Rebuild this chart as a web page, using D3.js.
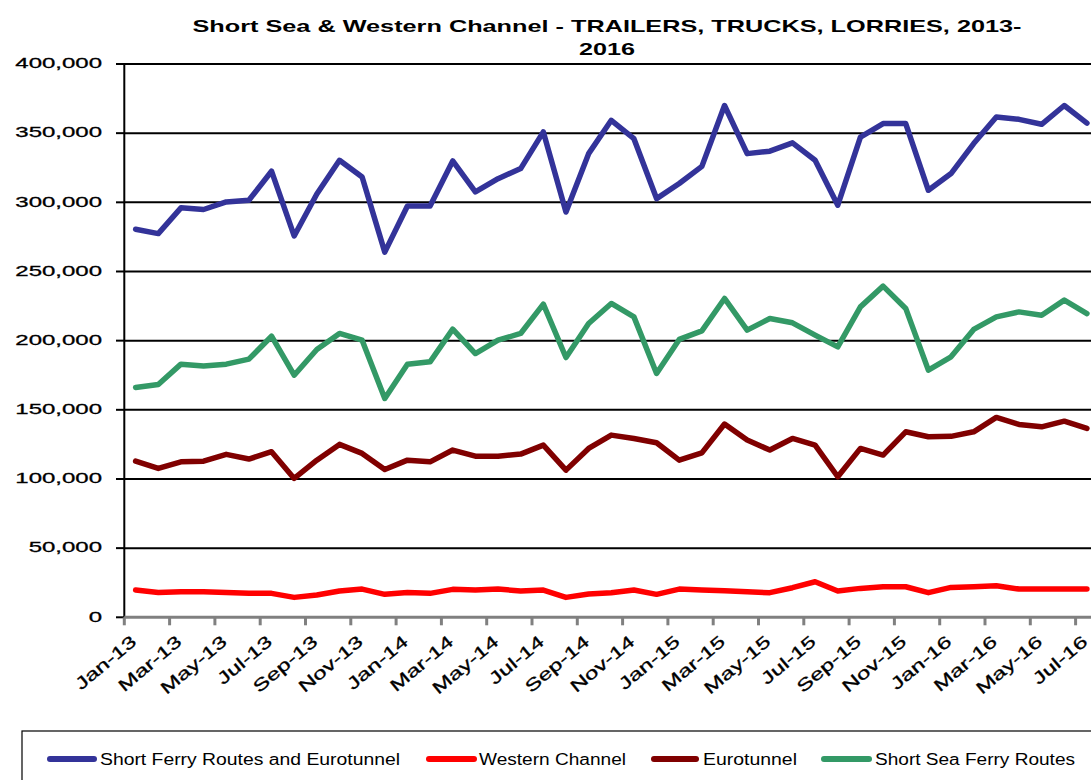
<!DOCTYPE html>
<html><head><meta charset="utf-8">
<script src="https://cdn.jsdelivr.net/npm/d3@7"></script>
<style>html,body{margin:0;padding:0;background:#fff;overflow:hidden}svg{display:block}text{font-family:"Liberation Sans",Arial,sans-serif}</style>
</head><body><svg id="c" width="1091" height="780"></svg>
<script>
const months=["Jan-13","Feb-13","Mar-13","Apr-13","May-13","Jun-13","Jul-13","Aug-13","Sep-13","Oct-13","Nov-13","Dec-13",
"Jan-14","Feb-14","Mar-14","Apr-14","May-14","Jun-14","Jul-14","Aug-14","Sep-14","Oct-14","Nov-14","Dec-14",
"Jan-15","Feb-15","Mar-15","Apr-15","May-15","Jun-15","Jul-15","Aug-15","Sep-15","Oct-15","Nov-15","Dec-15",
"Jan-16","Feb-16","Mar-16","Apr-16","May-16","Jun-16","Jul-16"];
const shortFerryAndEurotunnel=[280500,277400,296000,294800,300300,301500,322500,275700,306000,330400,318300,264000,297400,297400,329900,307500,317100,324400,350900,293000,335200,359300,346000,302700,313600,326000,370000,335200,337000,343000,330400,297900,347200,356900,356900,308700,320800,342500,361700,360000,356400,370000,357300];
const westernChannel=[19700,18000,18400,18400,18000,17300,17300,14400,16100,19000,20400,16600,18000,17300,20200,19700,20400,19000,19700,14400,16800,17800,19700,16600,20400,19700,19200,18400,17800,21400,25700,19000,20900,22100,22100,17800,21600,22100,22800,20400,20400,20400,20400];
const eurotunnel=[112900,107600,112400,112900,117800,114400,119700,100400,113600,125000,118500,106900,113600,112400,120900,116500,116500,118000,124500,106400,122100,131700,129300,126200,113600,118900,139700,128100,120900,129300,124500,101600,122100,117300,134100,130500,130800,134100,144500,139400,137700,141800,136500];
const shortSeaFerry=[166200,168300,183000,181600,183000,186600,203200,175000,193600,205200,200300,158200,183000,184700,208300,190700,200300,205200,226400,187800,212400,226900,217200,176300,200900,207100,230500,207600,216000,212900,204000,195500,224400,239400,223300,178700,188300,208100,217200,220800,218400,229300,219600];
const seriesNames=["Short Ferry Routes and  Eurotunnel","Western Channel","Eurotunnel","Short Sea Ferry Routes"];
const seriesColors=["#333399","#FF0000","#800000","#339966"];
const yTicks=[0,50000,100000,150000,200000,250000,300000,350000,400000];
const titleLines=["Short Sea & Western Channel -  TRAILERS, TRUCKS, LORRIES, 2013-","2016"];

const svg=d3.select("#c");
const x=d3.scaleBand().domain(months).range([124.3,124.3+43*22.65]).padding(0);
const y=d3.scaleLinear().domain([0,400000]).range([617.3,64]);
const fmt=d3.format(",");

// gridlines
svg.append("g").selectAll("line").data(yTicks.filter(d=>d>0)).join("line")
 .attr("x1",x.range()[0]).attr("x2",1100).attr("y1",d=>y(d)).attr("y2",d=>y(d))
 .attr("stroke","#000").attr("stroke-width",2);
// y axis
svg.append("line").attr("x1",124.3).attr("x2",124.3).attr("y1",y(400000)-1).attr("y2",y(0))
 .attr("stroke","#000").attr("stroke-width",2);
svg.append("g").selectAll("line").data(yTicks).join("line")
 .attr("x1",116).attr("x2",124.3).attr("y1",d=>y(d)).attr("y2",d=>y(d)).attr("stroke","#000").attr("stroke-width",2);
svg.append("g").selectAll("g").data(yTicks).join("g")
 .attr("transform",d=>`translate(102,${y(d)-1}) scale(1.6,1)`)
 .append("text").attr("text-anchor","end").attr("dominant-baseline","central")
 .attr("font-size",15).attr("fill","#000").attr("stroke","#000").attr("stroke-width",0.3).text(d=>fmt(d));
// x axis
svg.append("line").attr("x1",124.3).attr("x2",1100).attr("y1",y(0)).attr("y2",y(0))
 .attr("stroke","#808080").attr("stroke-width",3);
const tickMonths=months.filter((d,i)=>i%2===0);
svg.append("g").selectAll("line").data(tickMonths).join("line")
 .attr("x1",d=>x(d)).attr("x2",d=>x(d)).attr("y1",y(0)).attr("y2",y(0)+8)
 .attr("stroke","#808080").attr("stroke-width",3);
svg.append("g").selectAll("g").data(tickMonths).join("g")
 .attr("transform",d=>`translate(${x(d)+x.bandwidth()/2-6},${634}) rotate(-40) scale(1.42,1)`)
 .append("text").attr("text-anchor","end").attr("dy","0.72em")
 .attr("font-size",17).attr("fill","#000").attr("stroke","#000").attr("stroke-width",0.3).text(d=>d);

// lines
const series=[shortFerryAndEurotunnel,westernChannel,eurotunnel,shortSeaFerry];
const line=d3.line().x((d,i)=>x(months[i])+x.bandwidth()/2).y(d=>y(d));
svg.append("g").selectAll("path").data(series).join("path")
 .attr("d",line).attr("fill","none").attr("stroke",(d,i)=>seriesColors[i])
 .attr("stroke-width",5.5).attr("stroke-linejoin","round").attr("stroke-linecap","round");

// title
const tl=[{t:titleLines[0],y:32,w:829},{t:titleLines[1],y:55,w:56}];
svg.append("g").selectAll("text").data(tl).join("text")
 .attr("x",607).attr("y",d=>d.y).attr("text-anchor","middle").attr("font-weight","bold").attr("font-size",17)
 .attr("textLength",d=>d.w).attr("lengthAdjust","spacingAndGlyphs").text(d=>d.t);

// legend
svg.append("rect").attr("x",22).attr("y",731).attr("width",1100).attr("height",80)
 .attr("fill","none").attr("stroke","#000").attr("stroke-width",1.2);
const legPos=[{s:47,e:97,t:100,w:300},{s:426,e:477,t:479,w:147},{s:651,e:699,t:703,w:94},{s:821,e:872,t:875,w:200}];
const lg=svg.append("g").selectAll("g").data(seriesNames).join("g");
lg.append("line").attr("x1",(d,i)=>legPos[i].s+3).attr("x2",(d,i)=>legPos[i].e-3).attr("y1",759).attr("y2",759)
 .attr("stroke",(d,i)=>seriesColors[i]).attr("stroke-width",6).attr("stroke-linecap","round");
lg.append("text").attr("x",(d,i)=>legPos[i].t).attr("y",765).attr("font-size",16)
 .attr("textLength",(d,i)=>legPos[i].w).attr("lengthAdjust","spacingAndGlyphs").text(d=>d);
</script></body></html>
